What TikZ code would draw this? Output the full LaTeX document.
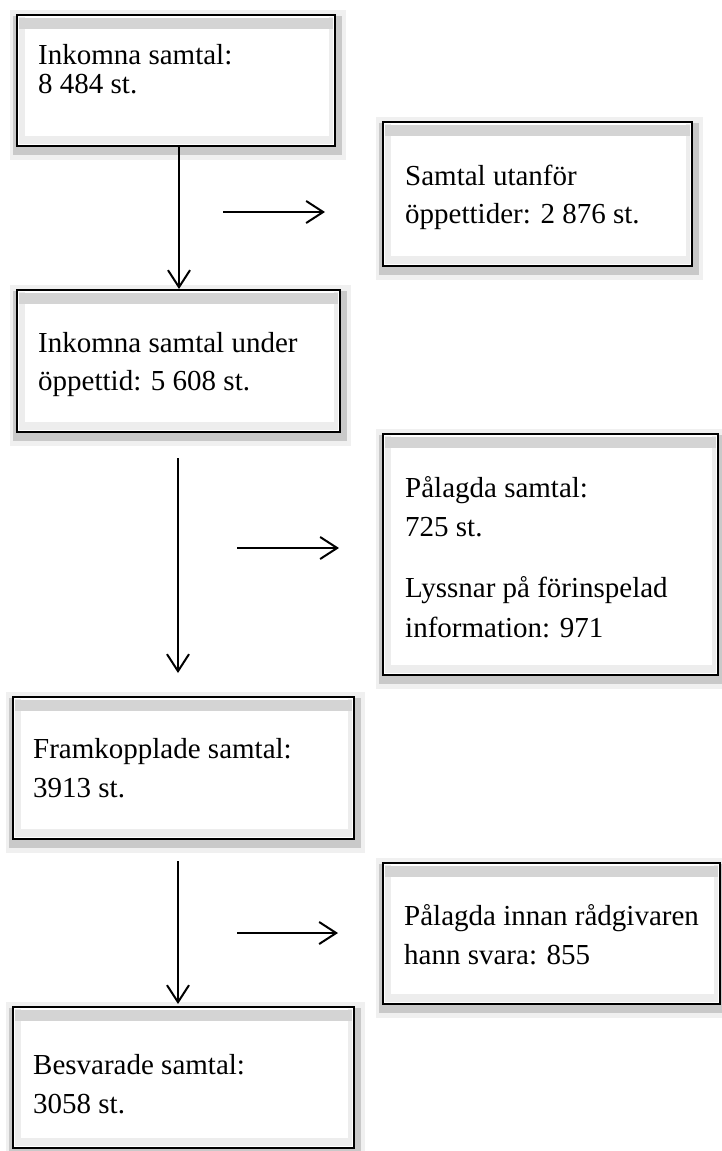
\documentclass[tikz,border=0pt]{standalone}
\usepackage{fontspec}
\setmainfont{Liberation Serif}
\usetikzlibrary{arrows.meta,fit}
\tikzset{
  halo/.style={fill=black!6},
  shadowout/.style={fill=black!21},
  innertop/.style={fill=black!17},
  innerside/.style={fill=black!7},
  boxline/.style={draw=black, line width=2.2pt, inner sep=0pt},
  txt/.style={anchor=base west, inner sep=0pt, font=\fontsize{29}{36}\selectfont},
  flow/.style={line width=2pt, -{Straight Barb[length=17pt,width=22pt,line width=2pt]}},
}
\newcommand\shadebox[5]{%
  \fill[halo] (#2-7,#3-5) rectangle (#4+11,#5+14);
  \fill[shadowout] (#2-4,#3+1) rectangle (#4+7,#5+9);
  \fill[white] (#2,#3) rectangle (#4,#5);
  \fill[innerside] (#2+2,#3+2) rectangle (#2+8,#5-2);
  \fill[innerside] (#4-6,#3+2) rectangle (#4-2,#5-2);
  \fill[innerside] (#2+2,#5-10) rectangle (#4-2,#5-2);
  \fill[white] (#2+8,#3+2) rectangle (#4-6,#5-10);
  \fill[innertop] (#2+2,#3+3) rectangle (#4-2,#3+14);
  \node[boxline, fit={(#2,#3) (#4,#5)}] (#1) {};
}
\begin{document}
\begin{tikzpicture}[x=1pt,y=-1pt]
\useasboundingbox[fill=white] (0,0) rectangle (722,1151);

% boxes
\shadebox{b1}{17}{15}{335}{146}
\shadebox{b2}{383}{122}{692}{266}
\shadebox{b3}{17}{290}{340}{432}
\shadebox{b4}{383}{434}{718}{675}
\shadebox{b5}{13}{697}{354}{839}
\shadebox{b6}{383}{863}{720}{1004}
\shadebox{b7}{13}{1007}{354}{1148}

% texts
\node[txt] (t1a) at (38,64) {Inkomna samtal:};
\node[txt] (t1b) at (38,93) {8 484 st.};

\node[txt] (t2a) at (405,185) {Samtal utanför};
\node[txt] (t2b) at (405,223) {öppettider: 2 876 st.};

\node[txt] (t3a) at (38,352) {Inkomna samtal under};
\node[txt] (t3b) at (38,390) {öppettid: 5 608 st.};

\node[txt] (t4a) at (405,497) {Pålagda samtal:};
\node[txt] (t4b) at (405,536) {725 st.};
\node[txt] (t4c) at (405,597) {Lyssnar på förinspelad};
\node[txt] (t4d) at (405,637) {information: 971};

\node[txt] (t5a) at (33,758) {Framkopplade samtal:};
\node[txt] (t5b) at (33,797) {3913 st.};

\node[txt] (t6a) at (404,925) {Pålagda innan rådgivaren};
\node[txt] (t6b) at (404,964) {hann svara: 855};

\node[txt] (t7a) at (33,1074) {Besvarade samtal:};
\node[txt] (t7b) at (33,1113) {3058 st.};

% arrow end points
\coordinate (v1s) at (179,146);
\coordinate (v1e) at (179,289);
\coordinate (h1s) at (223,212);
\coordinate (h1e) at (325,212);
\coordinate (v2s) at (178,458);
\coordinate (v2e) at (178,673);
\coordinate (h2s) at (237,548);
\coordinate (h2e) at (339,548);
\coordinate (v3s) at (178,861);
\coordinate (v3e) at (178,1004);
\coordinate (h3s) at (237,933);
\coordinate (h3e) at (338,933);

\draw[flow] (v1s) -- (v1e);
\draw[flow] (h1s) -- (h1e);
\draw[flow] (v2s) -- (v2e);
\draw[flow] (h2s) -- (h2e);
\draw[flow] (v3s) -- (v3e);
\draw[flow] (h3s) -- (h3e);
\end{tikzpicture}
\end{document}
